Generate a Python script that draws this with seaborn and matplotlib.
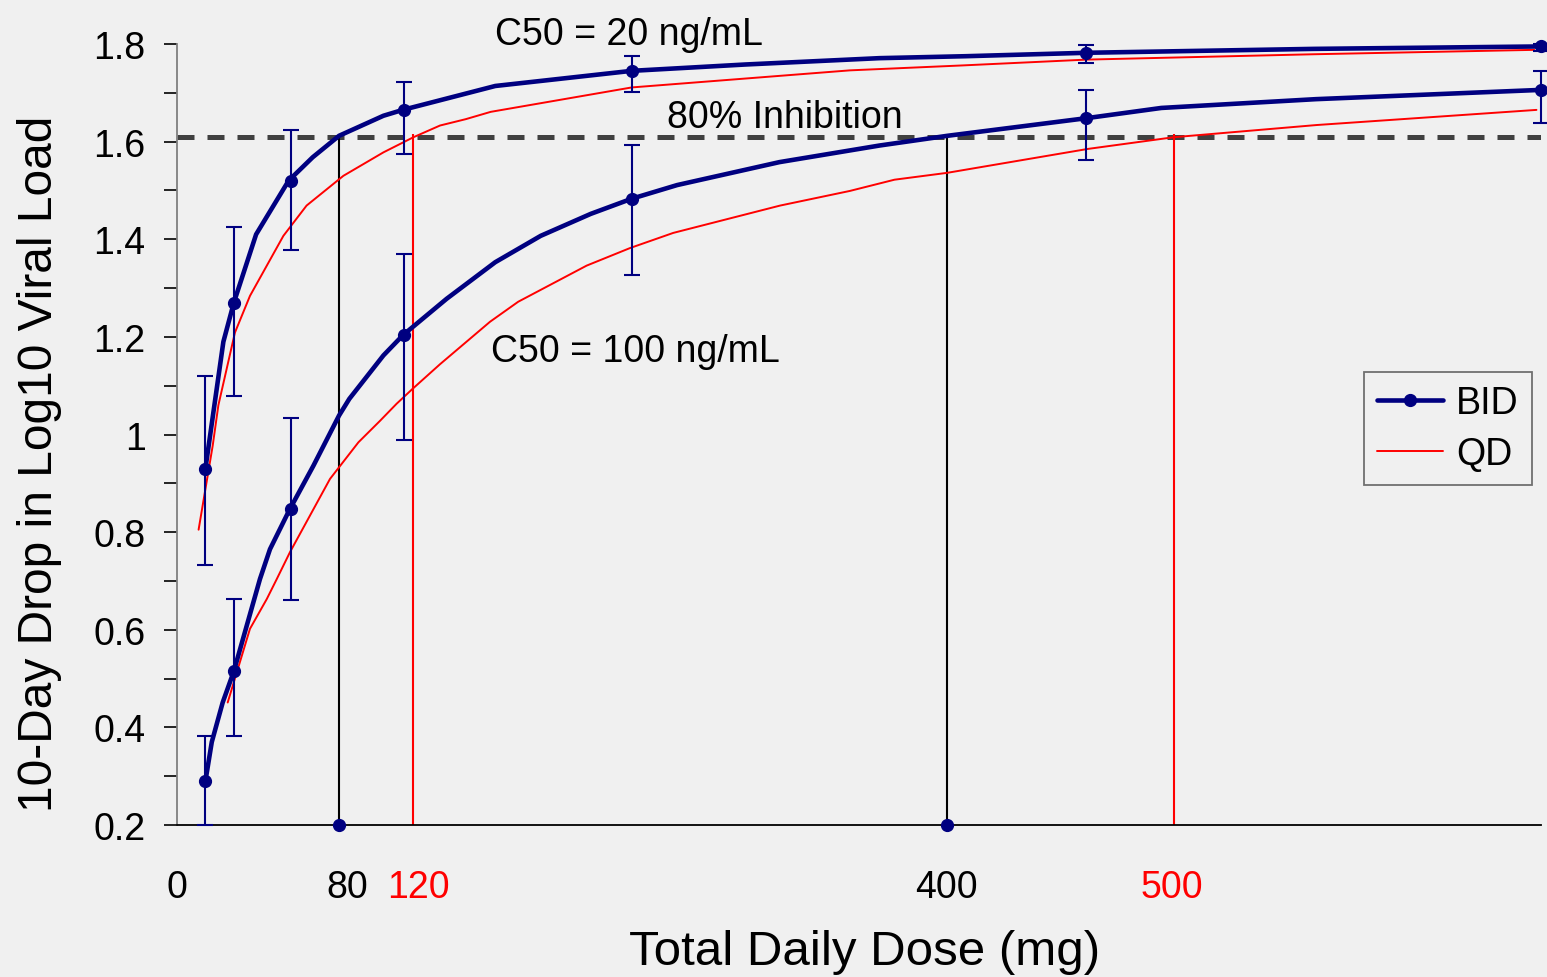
import matplotlib
matplotlib.use("Agg")
import matplotlib.pyplot as plt
import seaborn as sns
import pandas as pd
from matplotlib.lines import Line2D

# ---------------- data ----------------
# model curves (dose in mg, drop in log10 viral load)
bid_hi_dose = [12.5, 20.4, 25, 34.8, 49.1, 59.7, 71.3, 90.8, 99.3, 140, 200, 250, 309, 347, 400, 500, 600]
bid_hi_val = [0.93, 1.19, 1.27, 1.41, 1.52, 1.568, 1.612, 1.653, 1.665, 1.714, 1.745, 1.758, 1.771, 1.775, 1.782, 1.79, 1.795]

bid_lo_dose = [12.5, 15.3, 20.1, 25, 36.5, 40.9, 49.4, 60, 71.3, 75.8, 90.8, 99.5, 118.6, 140, 160, 182, 200, 220,
               265, 309, 339, 400, 433, 501, 600]
bid_lo_val = [0.29, 0.37, 0.451, 0.515, 0.704, 0.765, 0.845, 0.936, 1.039, 1.073, 1.162, 1.204, 1.278, 1.353, 1.407,
              1.452, 1.483, 1.511, 1.558, 1.592, 1.612, 1.648, 1.669, 1.687, 1.706]

qd_hi_dose = [9.5, 15.7, 18.2, 25.5, 32.1, 46.8, 57, 73.2, 90.8, 104, 115.7, 127, 138, 200, 296, 345, 400, 500, 597]
qd_hi_val = [0.805, 0.977, 1.06, 1.209, 1.284, 1.407, 1.469, 1.530, 1.578, 1.609, 1.633, 1.646, 1.661, 1.711, 1.746,
             1.756, 1.768, 1.779, 1.788]

qd_lo_dose = [22.3, 32.1, 39.5, 43.9, 49.7, 67.3, 79.8, 89.3, 96.6, 103.5, 115.7, 137.7, 150.1, 180.2, 199.3, 218.3,
              265.3, 296, 315.6, 338.7, 400.6, 438.4, 501.3, 598]
qd_lo_val = [0.451, 0.602, 0.663, 0.704, 0.759, 0.909, 0.984, 1.028, 1.063, 1.093, 1.144, 1.231, 1.272, 1.346, 1.382,
             1.413, 1.469, 1.499, 1.522, 1.536, 1.585, 1.609, 1.634, 1.665]

# observed BID points with error bars
obs_dose = [12.5, 25, 50, 100, 200, 400, 600]
obs_hi = [0.93, 1.27, 1.52, 1.665, 1.745, 1.782, 1.795]
obs_hi_low = [0.733, 1.078, 1.378, 1.575, 1.702, 1.762, 1.785]
obs_hi_up = [1.119, 1.426, 1.624, 1.722, 1.775, 1.798, 1.80]
obs_lo = [0.29, 0.515, 0.847, 1.204, 1.483, 1.648, 1.706]
obs_lo_low = [0.2, 0.382, 0.661, 0.989, 1.327, 1.562, 1.639]
obs_lo_up = [0.382, 0.664, 1.034, 1.369, 1.594, 1.706, 1.745]

inhibition_level = 1.61
bid_cross = [71.3, 338.7]     # BID doses reaching 80% inhibition
qd_cross = [104.0, 438.4]     # QD doses reaching 80% inhibition
line_top = 1.615

xtick_pos = [0, 74.8, 106, 338.6, 437.6]
xtick_labels = ["0", "80", "120", "400", "500"]
xtick_colors = ["black", "black", "red", "black", "red"]
ytick_vals = [0.2, 0.4, 0.6, 0.8, 1.0, 1.2, 1.4, 1.6, 1.8]
ytick_labels = ["0.2", "0.4", "0.6", "0.8", "1", "1.2", "1.4", "1.6", "1.8"]

# ---------------- style ----------------
BG = "#F0F0F0"
NAVY = "#000080"
sns.set_style("ticks", {"axes.facecolor": BG, "figure.facecolor": BG})
plt.rcParams["font.family"] = ["Liberation Sans", "DejaVu Sans"]
plt.rcParams["text.color"] = "black"
plt.rcParams["axes.labelcolor"] = "black"
plt.rcParams["xtick.color"] = "black"
plt.rcParams["ytick.color"] = "black"

FS = 27

fig = plt.figure(figsize=(15.47, 9.78), dpi=100)
ax = fig.add_axes([177 / 1547, 1 - 826 / 978, 1364 / 1547, 781 / 978])
ax.set_facecolor(BG)

# curves
for d, v, c, lw in [(bid_hi_dose, bid_hi_val, NAVY, 3.3), (bid_lo_dose, bid_lo_val, NAVY, 3.3),
                    (qd_hi_dose, qd_hi_val, "red", 1.4), (qd_lo_dose, qd_lo_val, "red", 1.4)]:
    df = pd.DataFrame({"dose": d, "val": v})
    sns.lineplot(data=df, x="dose", y="val", ax=ax, color=c, linewidth=lw, sort=False,
                 estimator=None, clip_on=False, zorder=4 if c == NAVY else 3)

# observed points with error bars
for m, lo, up in [(obs_hi, obs_hi_low, obs_hi_up), (obs_lo, obs_lo_low, obs_lo_up)]:
    yerr = [[a - b for a, b in zip(m, lo)], [b - a for a, b in zip(m, up)]]
    eb = ax.errorbar(obs_dose, m, yerr=yerr, fmt="o", color=NAVY, markersize=8.5, elinewidth=1.5,
                     capsize=5.5, capthick=1.5, zorder=5)
    for art in eb.lines[1] + eb.lines[2] + (eb.lines[0],):
        art.set_clip_on(False)

# 80% inhibition reference
ax.axhline(inhibition_level, color="#404040", linewidth=3.6, linestyle=(0, (3.4, 2.6)), zorder=2)
ax.vlines(bid_cross, 0.2, line_top, color="black", linewidth=1.5, zorder=2)
ax.vlines(qd_cross, 0.2, line_top, color="red", linewidth=1.5, zorder=2)
ax.plot(bid_cross, [0.2, 0.2], "o", color=NAVY, markersize=8.5, clip_on=False, zorder=6)

# annotations
ax.text(199, 1.80, "C50 = 20 ng/mL", fontsize=FS, ha="center", va="baseline")
ax.text(267.5, 1.629, "80% Inhibition", fontsize=FS, ha="center", va="baseline")
ax.text(201.5, 1.151, "C50 = 100 ng/mL", fontsize=FS, ha="center", va="baseline")

# axes
ax.set_xlim(0, 600)
ax.set_ylim(0.2, 1.8)
ax.set_yticks(ytick_vals)
ax.set_yticklabels(ytick_labels)
ax.set_yticks([v + 0.1 for v in ytick_vals[:-1]], minor=True)
ax.tick_params(axis="y", which="both", direction="out", length=9.5, width=1.2, color="black",
               labelsize=FS, pad=13)
ax.set_xticks(xtick_pos)
ax.set_xticklabels(xtick_labels)
for lab, col in zip(ax.get_xticklabels(), xtick_colors):
    lab.set_color(col)
ax.tick_params(axis="x", which="major", length=0, labelsize=FS, pad=32)
ax.set_xticks([0], minor=True)
ax.tick_params(axis="x", which="minor", direction="out", length=8, width=1.2, color="#707070")

for s in ["top", "right"]:
    ax.spines[s].set_visible(False)
ax.spines["left"].set_color("#808080")
ax.spines["left"].set_linewidth(1.3)
ax.spines["bottom"].set_color("black")
ax.spines["bottom"].set_linewidth(1.3)

ax.set_xlabel("Total Daily Dose (mg)", fontsize=35.5, va="center")
ax.xaxis.set_label_coords((865 - 177) / 1364, (826 - 953) / 781)
ax.set_ylabel("10-Day Drop in Log10 Viral Load", fontsize=34.5, va="center")
ax.yaxis.set_label_coords((40 - 177) / 1364, (826 - 464) / 781)

# legend
handles = [Line2D([0], [0], color=NAVY, linewidth=3.3, marker="o", markersize=8.5),
           Line2D([0], [0], color="red", linewidth=1.4)]
leg = ax.legend(handles, ["BID", "QD"], loc="upper left", bbox_to_anchor=((1364 - 177) / 1364, (826 - 373) / 781),
                borderaxespad=0, fontsize=FS, frameon=True, fancybox=False, handlelength=1.75,
                handletextpad=0.35, labelspacing=0.4, borderpad=0.35)
leg.get_frame().set_facecolor(BG)
leg.get_frame().set_edgecolor("#707070")
leg.get_frame().set_linewidth(1.3)
leg.get_frame().set_alpha(1)

fig.savefig("out.png", dpi=100, facecolor=BG)
